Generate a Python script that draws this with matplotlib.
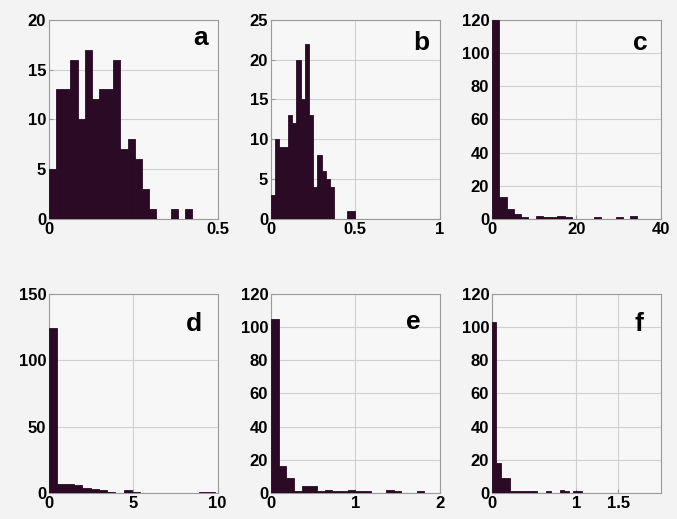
import numpy as np
import matplotlib
matplotlib.use("Agg")
import matplotlib.pyplot as plt

plt.rcParams['font.family'] = ['Liberation Sans', 'DejaVu Sans']
plt.rcParams['font.weight'] = 'bold'

## histogram counts (20 bins each)
counts_a = [5, 13, 13, 16, 10, 17, 12, 13, 13, 16, 7, 8, 6, 3, 1, 0, 0, 1, 0, 1]
counts_b = [3, 10, 9, 9, 13, 12, 20, 15, 22, 13, 4, 8, 6, 5, 4, 0, 0, 0, 1, 1]
counts_c = [120, 13, 6, 3, 1, 0, 2, 1, 1, 2, 1, 0, 0, 0, 1, 0, 0, 1, 0, 2]
counts_d = [124, 7, 7, 6, 4, 3, 2, 1, 0, 2, 1, 0, 0, 0, 0, 0, 0, 0, 1, 1]
counts_e = [105, 16, 9, 1, 4, 4, 1, 2, 1, 1, 2, 1, 1, 0, 0, 2, 1, 0, 0, 1]
counts_f = [103, 18, 9, 9, 1, 1, 1, 1, 1, 1, 0, 0, 1, 0, 0, 2, 1, 0, 1, 1]

# data range covered by the bins
range_a = (0, 0.424)
range_b = (0, 0.5)
range_c = (0, 34.5)
range_d = (0, 9.86)
range_e = (0, 1.82)
range_f = (0, 1.07)

labels = ['a', 'b', 'c', 'd', 'e', 'f']
xlims = [(0, 0.5), (0, 1), (0, 40), (0, 10), (0, 2), (0, 2)]
ylims = [(0, 20), (0, 25), (0, 120), (0, 150), (0, 120), (0, 120)]
xticks = [[0, 0.5], [0, 0.5, 1], [0, 20, 40], [0, 5, 10], [0, 1, 2], [0, 1, 1.5]]
xticklabels = [['0', '0.5'], ['0', '0.5', '1'], ['0', '20', '40'], ['0', '5', '10'],
               ['0', '1', '2'], ['0', '1', '1.5']]
yticks = [[0, 5, 10, 15, 20], [0, 5, 10, 15, 20, 25], [0, 20, 40, 60, 80, 100, 120],
          [0, 50, 100, 150], [0, 20, 40, 60, 80, 100, 120], [0, 20, 40, 60, 80, 100, 120]]

all_counts = [counts_a, counts_b, counts_c, counts_d, counts_e, counts_f]
all_ranges = [range_a, range_b, range_c, range_d, range_e, range_f]

# panel positions (figure fraction) and letter placement
lefts = [0.0724, 0.4003, 0.7267]
bottoms = [0.578, 0.050]
width, height = 0.249, 0.384
letter_pos = [(0.94, 0.872), (0.94, 0.85), (0.925, 0.85),
              (0.905, 0.815), (0.89, 0.825), (0.90, 0.815)]

bar_color = '#2b0a26'
fig = plt.figure(figsize=(6.77, 5.19), dpi=100, facecolor='#f3f3f3')

for i in range(6):
    ax = fig.add_axes([lefts[i % 3], bottoms[i // 3], width, height])
    ax.set_facecolor('#f7f7f7')
    edges = np.linspace(all_ranges[i][0], all_ranges[i][1], len(all_counts[i]) + 1)
    ax.bar(edges[:-1], all_counts[i], width=np.diff(edges), align='edge',
           color=bar_color, edgecolor=bar_color, linewidth=0.6, zorder=3)
    ax.set_xlim(xlims[i])
    ax.set_ylim(ylims[i])
    ax.set_xticks(xticks[i])
    ax.set_xticklabels(xticklabels[i])
    ax.set_yticks(yticks[i])
    ax.grid(True, color='#d0d0d0', linewidth=0.8, zorder=0)
    ax.tick_params(direction='in', length=3, pad=2, labelsize=12, color='#999999')
    for lab in ax.get_xticklabels() + ax.get_yticklabels():
        lab.set_fontweight('bold')
    for s in ax.spines.values():
        s.set_color('#9a9a9a')
        s.set_linewidth(0.8)
    ax.text(letter_pos[i][0], letter_pos[i][1], labels[i], transform=ax.transAxes,
            ha='right', va='baseline', fontsize=19, fontweight='bold', zorder=5)

plt.savefig('out.png', dpi=100, facecolor=fig.get_facecolor())
